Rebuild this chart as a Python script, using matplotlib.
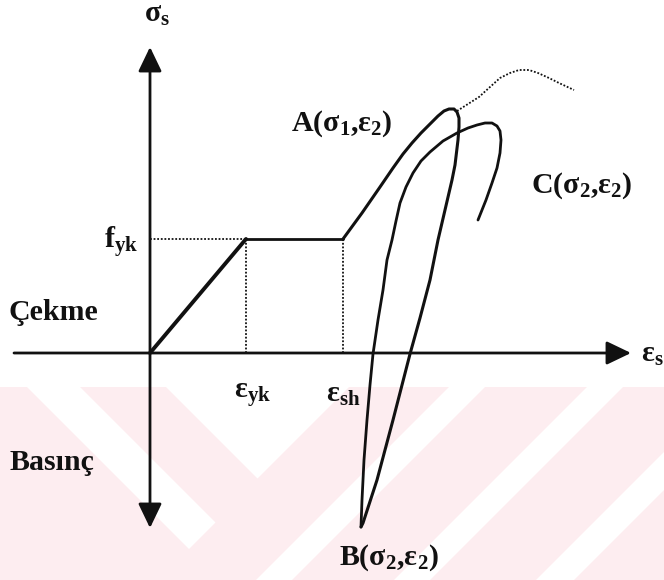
import numpy as np
import matplotlib
matplotlib.use('Agg')
import matplotlib.pyplot as plt
from matplotlib.patches import Polygon, Rectangle

plt.rcParams['font.family'] = ['Liberation Serif', 'DejaVu Serif']
plt.rcParams['mathtext.fontset'] = 'custom'
plt.rcParams['mathtext.rm'] = 'Liberation Serif:bold'
plt.rcParams['mathtext.it'] = 'Liberation Serif:bold'
plt.rcParams['mathtext.bf'] = 'Liberation Serif:bold'
plt.rcParams['mathtext.default'] = 'rm'

# characteristic points of the idealised steel curve (diagram units)
eps_yk = 96
eps_sh = 193
f_yk = 114

# first loading beyond eps_sh up to A, then unloading down to B
c1_eps = [193, 212, 230, 243, 253, 262, 271, 280, 288, 294, 299, 304, 307, 309,
          309, 308, 305, 302, 295, 288, 280, 270, 260, 243, 227, 213, 211]
c1_sig = [114, 140, 166, 185, 199, 210, 220, 229, 237, 242, 244, 244, 241, 235,
          226, 213, 188, 173, 143, 113, 73, 35, -1, -67, -127, -170, -174]

# reloading from B up to C
c2_eps = [211, 212, 214, 217, 220, 223, 228, 233, 237, 242, 246, 250, 256, 263,
          271, 280, 293, 307, 318, 327, 335, 342, 347, 350, 351, 350, 347, 342,
          336, 328]
c2_sig = [-174, -147, -107, -67, -32, -1, 33, 63, 93, 113, 132, 150, 166, 180,
          192, 201, 212, 220, 225, 228, 230, 230, 227, 222, 213, 200, 185, 170,
          153, 133]

# monotonic envelope (dotted) after A
env_eps = [307, 318, 329, 340, 350, 360, 369, 379, 388, 399, 409, 424]
env_sig = [242, 249, 256, 266, 275, 280, 283, 283, 280, 275, 270, 263]

# axis extents
x_min, x_max = -136, 481
y_min, y_max = -175, 306

fig = plt.figure(figsize=(6.64, 5.8), dpi=100)

# background band with diagonal stripes
bg = fig.add_axes([0, 0, 1, 1])
bg.set_xlim(0, 664)
bg.set_ylim(580, 0)
bg.axis('off')
pink = '#fdedf0'
band_top = 387
bg.add_patch(Rectangle((0, band_top), 664, 580 - band_top, color=pink, lw=0))
h = 580 - band_top
# stripe running down-right (constant x - y), ends where x + y reaches 351
bg.add_patch(Polygon([(27, band_top), (80, band_top), (215.5, band_top + 135.5),
                      (189, band_top + 162)], closed=True, color='white', lw=0))
# V-shaped notch
bg.add_patch(Polygon([(166, band_top), (349, band_top), (257.5, band_top + 91.5)],
                     closed=True, color='white', lw=0))
# stripes running down-left
for v0, v1 in [(449, 485), (587, 623), (729, 767)]:
    bg.add_patch(Polygon([(v0, band_top), (v1, band_top), (v1 - h, 580), (v0 - h, 580)],
                         closed=True, color='white', lw=0))

ax = fig.add_axes([0, 0, 1, 1])
ax.patch.set_alpha(0)
ax.set_xlim(-150, 514)
ax.set_ylim(-227, 353)
ax.axis('off')

k = '#111111'
arrow = dict(arrowstyle='-|>,head_length=0.75,head_width=0.36', mutation_scale=20,
             lw=2.0, color=k, shrinkA=0, shrinkB=0)
ax.annotate('', xy=(0, y_max), xytext=(0, 0), arrowprops=arrow)
ax.annotate('', xy=(0, y_min), xytext=(0, 0), arrowprops=arrow)
ax.annotate('', xy=(x_max, 0), xytext=(x_min, 0), arrowprops=arrow)

# guide lines
dot = (0, (1, 1))
ax.plot([0, eps_yk], [f_yk, f_yk], color=k, lw=1.3, ls=dot)
ax.plot([eps_yk, eps_yk], [0, f_yk], color=k, lw=1.3, ls=dot)
ax.plot([eps_sh, eps_sh], [0, f_yk], color=k, lw=1.3, ls=dot)

# elastic branch and yield plateau
ax.plot([0, eps_yk], [0, f_yk], color=k, lw=2.8, solid_capstyle='round')
ax.plot([eps_yk, eps_sh], [f_yk, f_yk], color=k, lw=2.0, solid_capstyle='round')

ax.plot(c1_eps, c1_sig, color=k, lw=2.2, solid_capstyle='round', solid_joinstyle='round')
ax.plot(c2_eps, c2_sig, color=k, lw=2.0, solid_capstyle='round', solid_joinstyle='round')
ax.plot(env_eps, env_sig, color=k, lw=1.3, ls=dot)

fs = 21.5
txt = dict(fontsize=fs, color=k, fontweight='bold')
ax.text(7, 338, r'σ$_\mathrm{s}$', ha='center', va='center', **txt)
ax.text(-12, 111, r'f$_\mathrm{yk}$', ha='right', va='center', **txt)
ax.text(-141, 41, 'Çekme', ha='left', va='center', **txt)
ax.text(-141, -109, 'Basınç', ha='left', va='center', **txt)
ax.text(103, -42, r'ε$_\mathrm{yk}$', ha='center', va='center', **txt)
ax.text(193, -42, r'ε$_\mathrm{sh}$', ha='center', va='center', **txt)
ax.text(491, -2, r'ε$_\mathrm{s}$', ha='left', va='center', **txt)
ax.text(141, 229, r'A(σ$_1$,ε$_2$)', ha='left', va='center', **txt)
ax.text(381, 167, r'C(σ$_2$,ε$_2$)', ha='left', va='center', **txt)
ax.text(189, -205, r'B(σ$_2$,ε$_2$)', ha='left', va='center', **txt)

fig.savefig('out.png', dpi=100)
